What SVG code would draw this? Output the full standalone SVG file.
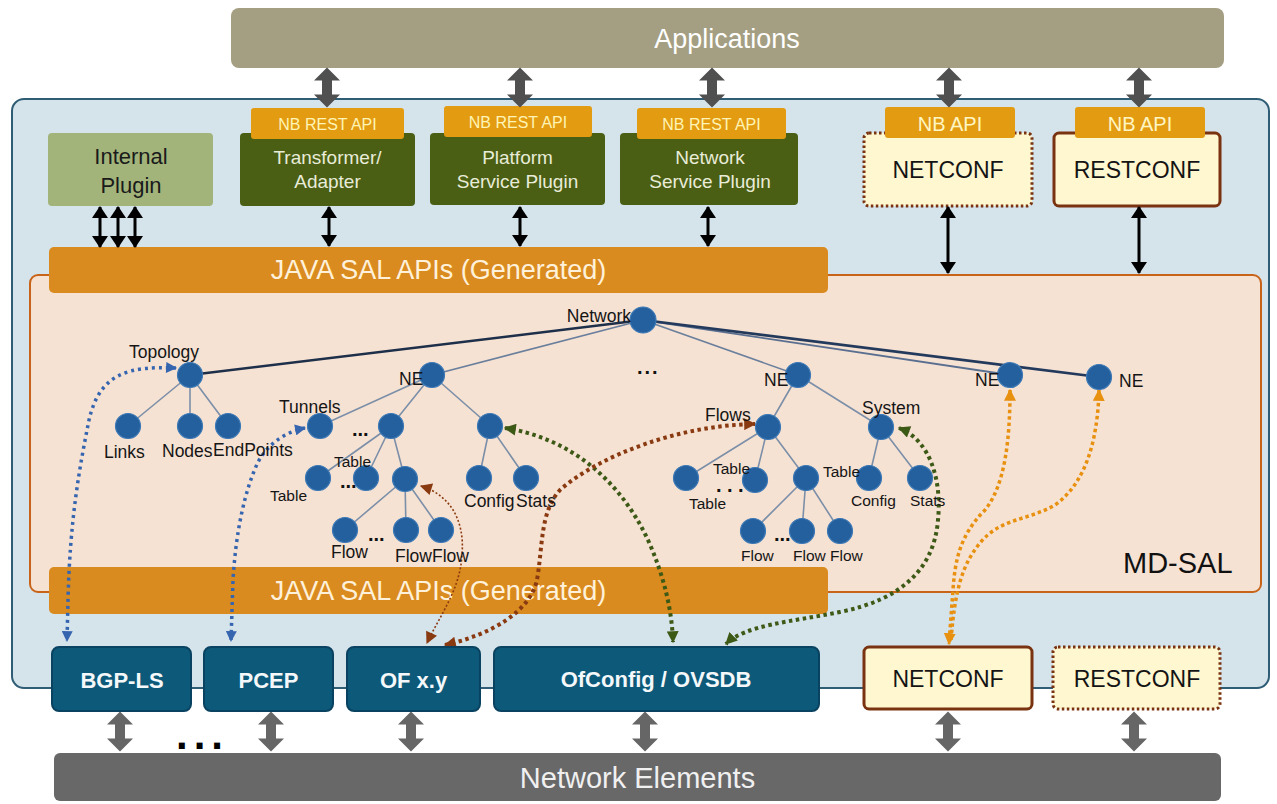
<svg xmlns="http://www.w3.org/2000/svg" xmlns:xlink="http://www.w3.org/1999/xlink" width="1277" height="804" viewBox="0 0 1277 804">
<style>
text{font-family:"Liberation Sans",Arial,sans-serif}
.lbl{font-size:17.5px;fill:#151515}
.lbs{font-size:15.5px;fill:#151515}
.dots{font-size:20px;font-weight:bold;fill:#111}
.tab{fill:#E39C12}
.tabt{font-size:16px;fill:#FFF4B5;text-anchor:middle}
.nbt{font-size:20px;fill:#FFF6C4;text-anchor:middle}
.green{fill:#4A5E14}
.greent{font-size:19px;fill:#E8ECD8;text-anchor:middle}
.java{fill:#DA8B1F}
.javat{font-size:27px;fill:#FFF1DA;text-anchor:middle}
.conf{fill:#FFF7D0;stroke:#7A3310;stroke-width:3}
.dotted{stroke-dasharray:2.5 2.5}
.conft{font-size:23px;fill:#141414;text-anchor:middle}
.teal{fill:#0C5979;stroke:#0A4361;stroke-width:2}
.tealt{font-size:22px;font-weight:bold;fill:#F4F8FA;text-anchor:middle}
.tree{stroke:#7C8FA8;stroke-width:1.6;fill:none}
.node{fill:#25609E;stroke:#3C79B6;stroke-width:1.2}
.blk{stroke:#000;stroke-width:3;marker-start:url(#mb);marker-end:url(#mb)}
.dash{fill:none}
</style>
<defs>
<path id="garrow" d="M0,0 L13,13 L5,13 L5,27 L13,27 L0,40 L-13,27 L-5,27 L-5,13 L-13,13 Z"/>
<marker id="mb" markerUnits="userSpaceOnUse" viewBox="0 0 12 16" markerWidth="12" markerHeight="16" refX="11" refY="8" orient="auto-start-reverse"><path d="M0,0 L12,8 L0,16 Z" fill="#000"/></marker>
<marker id="mBlue" markerUnits="userSpaceOnUse" viewBox="0 0 10 10" markerWidth="12" markerHeight="11" refX="9" refY="5" orient="auto-start-reverse"><path d="M0,0 L10,5 L0,10 Z" fill="#3665B0"/></marker>
<marker id="mGreen" markerUnits="userSpaceOnUse" viewBox="0 0 10 10" markerWidth="13" markerHeight="12" refX="9" refY="5" orient="auto-start-reverse"><path d="M0,0 L10,5 L0,10 Z" fill="#3D5916"/></marker>
<marker id="mBrown" markerUnits="userSpaceOnUse" viewBox="0 0 10 10" markerWidth="13" markerHeight="12" refX="9" refY="5" orient="auto-start-reverse"><path d="M0,0 L10,5 L0,10 Z" fill="#8A3A10"/></marker>
<marker id="mOrange" markerUnits="userSpaceOnUse" viewBox="0 0 10 10" markerWidth="12" markerHeight="12" refX="9" refY="5" orient="auto-start-reverse"><path d="M0,0 L10,5 L0,10 Z" fill="#E8900F"/></marker>
</defs>

<rect width="1277" height="804" fill="#FFFFFF"/>

<g id="applications">
<rect x="231" y="8" width="993" height="60" rx="8" fill="#A49E82"/>
<text x="727" y="48" font-size="27" fill="#FFFFFF" text-anchor="middle">Applications</text>
</g>

<g id="controller-panel">
<rect x="12" y="99" width="1257" height="589" rx="12" fill="#D5E3EB" stroke="#2F5D75" stroke-width="2"/>
</g>

<g id="md-sal">
<rect x="30" y="275" width="1231" height="317" rx="8" fill="#F6E2D3" stroke="#C8641A" stroke-width="2"/>
<text x="1123" y="573" font-size="29" fill="#111">MD-SAL</text>
</g>

<g id="internal-plugin">
<rect x="48" y="133" width="165" height="73" rx="4" fill="#A2B47A"/>
<text x="131" y="164" font-size="22" fill="#1A1A1A" text-anchor="middle">Internal</text>
<text x="131" y="193" font-size="22" fill="#1A1A1A" text-anchor="middle">Plugin</text>
</g>

<g id="transformer-adapter">
<rect class="green" x="240" y="133" width="175" height="73" rx="4"/>
<rect class="tab" x="251" y="108" width="153" height="31" rx="3"/>
<text class="tabt" x="327.5" y="130">NB REST API</text>
<text class="greent" x="327.5" y="164">Transformer/</text>
<text class="greent" x="327.5" y="188">Adapter</text>
</g>

<g id="platform-service-plugin">
<rect class="green" x="430" y="133" width="175" height="72" rx="4"/>
<rect class="tab" x="444" y="106" width="148" height="31" rx="3"/>
<text class="tabt" x="518" y="128">NB REST API</text>
<text class="greent" x="517.5" y="164">Platform</text>
<text class="greent" x="517.5" y="188">Service Plugin</text>
</g>

<g id="network-service-plugin">
<rect class="green" x="620" y="133" width="178" height="72" rx="4"/>
<rect class="tab" x="637" y="108" width="149" height="31" rx="3"/>
<text class="tabt" x="711.5" y="130">NB REST API</text>
<text class="greent" x="710" y="164">Network</text>
<text class="greent" x="710" y="188">Service Plugin</text>
</g>

<g id="netconf-nb">
<rect class="conf dotted" x="864" y="133" width="168" height="73" rx="5"/>
<rect class="tab" x="885" y="107" width="130" height="31" rx="3"/>
<text class="nbt" x="950" y="131">NB API</text>
<text class="conft" x="948" y="178">NETCONF</text>
</g>

<g id="restconf-nb">
<rect class="conf" x="1054" y="133" width="166" height="73" rx="5"/>
<rect class="tab" x="1075" y="107" width="130" height="31" rx="3"/>
<text class="nbt" x="1140" y="131">NB API</text>
<text class="conft" x="1137" y="178">RESTCONF</text>
</g>

<g id="java-sal-top">
<rect class="java" x="49" y="247" width="779" height="46" rx="5"/>
<text class="javat" x="438.5" y="279">JAVA SAL APIs (Generated)</text>
</g>

<g id="java-sal-bottom">
<rect class="java" x="49" y="567" width="779" height="47" rx="5"/>
<text class="javat" x="438.5" y="600">JAVA SAL APIs (Generated)</text>
</g>

<g id="network-elements">
<rect x="54" y="753" width="1167" height="48" rx="6" fill="#686868"/>
<text x="637.5" y="788" font-size="29" fill="#F0F0F0" text-anchor="middle">Network Elements</text>
<text x="176" y="749" font-size="42" font-weight="bold" letter-spacing="6" fill="#000">...</text>
</g>

<g id="connectors">
<g id="gray-arrows-top" fill="#505050">
<use xlink:href="#garrow" href="#garrow" x="327" y="67.5"/>
<use xlink:href="#garrow" href="#garrow" x="520" y="67.5"/>
<use xlink:href="#garrow" href="#garrow" x="712" y="67.5"/>
<use xlink:href="#garrow" href="#garrow" x="949" y="67.5"/>
<use xlink:href="#garrow" href="#garrow" x="1139" y="67.5"/>
</g>
<g id="gray-arrows-bottom" fill="#666666">
<use xlink:href="#garrow" href="#garrow" x="120" y="711.5"/>
<use xlink:href="#garrow" href="#garrow" x="271" y="711.5"/>
<use xlink:href="#garrow" href="#garrow" x="411" y="711.5"/>
<use xlink:href="#garrow" href="#garrow" x="645" y="711.5"/>
<use xlink:href="#garrow" href="#garrow" x="948" y="711.5"/>
<use xlink:href="#garrow" href="#garrow" x="1134" y="711.5"/>
</g>
<g id="black-arrows">
<line class="blk" x1="100" y1="207" x2="100" y2="247"/>
<line class="blk" x1="118" y1="207" x2="118" y2="247"/>
<line class="blk" x1="135" y1="207" x2="135" y2="247"/>
<line class="blk" x1="329" y1="207" x2="329" y2="246"/>
<line class="blk" x1="520" y1="207" x2="520" y2="246"/>
<line class="blk" x1="708" y1="207" x2="708" y2="246"/>
<line class="blk" x1="948" y1="207" x2="948" y2="273" stroke-width="4"/>
<line class="blk" x1="1139" y1="207" x2="1139" y2="273" stroke-width="4"/>
</g>
<g id="tree-lines">
<line x1="190" y1="375" x2="643" y2="320" stroke="#1E2F4A" stroke-width="2.5"/>
<line x1="432" y1="375" x2="643" y2="320" stroke="#6A7F9C" stroke-width="1.6"/>
<line x1="798" y1="375" x2="643" y2="320" stroke="#6A7F9C" stroke-width="1.6"/>
<line x1="1010" y1="375" x2="643" y2="320" stroke="#5A6F90" stroke-width="1.8"/>
<line x1="1099" y1="377" x2="643" y2="320" stroke="#243A5C" stroke-width="2.5"/>
<path class="tree" d="M190,375 L128,426 M190,375 L190,426 M190,375 L228,426"/>
<path class="tree" d="M432,375 L320,426 M432,375 L391,426 M432,375 L490,426"/>
<path class="tree" d="M391,426 L318,478 M391,426 L366,478 M391,426 L405,479"/>
<path class="tree" d="M405,479 L345,530 M405,479 L406,530 M405,479 L441,530"/>
<path class="tree" d="M490,426 L479,478 M490,426 L526,478"/>
<path class="tree" d="M798,375 L768,427 M798,375 L881,427"/>
<path class="tree" d="M768,427 L686,478 M768,427 L755,480 M768,427 L806,478"/>
<path class="tree" d="M806,478 L753,531 M806,478 L802,531 M806,478 L840,531"/>
<path class="tree" d="M881,427 L869,478 M881,427 L920,478"/>
</g>
<g id="dotted-arrows">
<path class="dash" d="M176,368 C130,366 100,372 89,420 C79,470 70,520 68,600 L67,641" stroke="#3665B0" stroke-width="3.5" stroke-dasharray="3 4" marker-start="url(#mBlue)" marker-end="url(#mBlue)"/>
<path class="dash" d="M305,428 C285,432 268,444 258,462 C245,490 236,530 233,580 L231,641" stroke="#3665B0" stroke-width="3.5" stroke-dasharray="3 4" marker-start="url(#mBlue)" marker-end="url(#mBlue)"/>
<path class="dash" d="M505,428 C570,438 620,480 648,540 C664,576 672,610 673,642" stroke="#3D5916" stroke-width="4" stroke-dasharray="3.5 3.5" marker-start="url(#mGreen)" marker-end="url(#mGreen)"/>
<path class="dash" d="M899,428 C930,440 942,480 938,520 C934,570 900,600 840,612 C790,622 745,625 726,644" stroke="#3D5916" stroke-width="4" stroke-dasharray="3.5 3.5" marker-start="url(#mGreen)" marker-end="url(#mGreen)"/>
<path class="dash" d="M445,645 C490,635 530,612 537,580 C543,545 540,512 560,490 C600,455 680,425 755,424" stroke="#8A3A10" stroke-width="4" stroke-dasharray="3.5 3.5" marker-start="url(#mBrown)" marker-end="url(#mBrown)"/>
<path class="dash" d="M421,486 C450,495 465,520 462,555 C460,590 440,615 427,643" stroke="#8A3A10" stroke-width="1.6" stroke-dasharray="2 2" marker-start="url(#mBrown)" marker-end="url(#mBrown)"/>
<path class="dash" d="M1010,390 C1010,440 1005,485 985,510 C960,535 955,560 953,590 L949,644" stroke="#E8900F" stroke-width="3.5" stroke-dasharray="3.5 3" marker-start="url(#mOrange)" marker-end="url(#mOrange)"/>
<path class="dash" d="M1099,390 C1098,430 1090,480 1055,505 C1030,520 1000,518 980,543 C962,565 955,590 951,640" stroke="#E8900F" stroke-width="3.5" stroke-dasharray="3.5 3" marker-start="url(#mOrange)"/>
</g>
</g>

<g id="tree-nodes">
<circle class="node" cx="643" cy="320" r="13"/>
<circle class="node" cx="190" cy="375" r="12.5"/>
<circle class="node" cx="128" cy="426" r="12.5"/>
<circle class="node" cx="190" cy="426" r="12.5"/>
<circle class="node" cx="228" cy="426" r="12.5"/>
<circle class="node" cx="432" cy="375" r="12.5"/>
<circle class="node" cx="320" cy="426" r="12.5"/>
<circle class="node" cx="391" cy="426" r="12.5"/>
<circle class="node" cx="490" cy="426" r="12.5"/>
<circle class="node" cx="318" cy="478" r="12.5"/>
<circle class="node" cx="366" cy="478" r="12.5"/>
<circle class="node" cx="405" cy="479" r="12.5"/>
<circle class="node" cx="479" cy="478" r="12.5"/>
<circle class="node" cx="526" cy="478" r="12.5"/>
<circle class="node" cx="345" cy="530" r="12.5"/>
<circle class="node" cx="406" cy="530" r="12.5"/>
<circle class="node" cx="441" cy="530" r="12.5"/>
<circle class="node" cx="798" cy="375" r="12.5"/>
<circle class="node" cx="1010" cy="375" r="12.5"/>
<circle class="node" cx="1099" cy="377" r="12.5"/>
<circle class="node" cx="768" cy="427" r="12.5"/>
<circle class="node" cx="881" cy="427" r="12.5"/>
<circle class="node" cx="686" cy="478" r="12.5"/>
<circle class="node" cx="755" cy="480" r="12.5"/>
<circle class="node" cx="806" cy="478" r="12.5"/>
<circle class="node" cx="869" cy="478" r="12.5"/>
<circle class="node" cx="920" cy="478" r="12.5"/>
<circle class="node" cx="753" cy="531" r="12.5"/>
<circle class="node" cx="802" cy="531" r="12.5"/>
<circle class="node" cx="840" cy="531" r="12.5"/>
</g>

<g id="tree-labels">
<text class="lbl" x="631" y="322" text-anchor="end">Network</text>
<text class="lbl" x="129" y="358">Topology</text>
<text class="lbl" x="104" y="458">Links</text>
<text class="lbl" x="162" y="457">Nodes</text>
<text class="lbl" x="213" y="456">EndPoints</text>
<text class="lbl" x="399" y="385">NE</text>
<text class="lbl" x="279" y="413">Tunnels</text>
<text class="lbs" x="334" y="467">Table</text>
<text class="lbs" x="270" y="501">Table</text>
<text class="lbl" x="464" y="507">Config</text>
<text class="lbl" x="516" y="507">Stats</text>
<text class="lbl" x="331" y="558">Flow</text>
<text class="lbl" x="395" y="562">FlowFlow</text>
<text class="lbl" x="764" y="386">NE</text>
<text class="lbl" x="975" y="386">NE</text>
<text class="lbl" x="1119" y="387">NE</text>
<text class="lbl" x="705" y="421">Flows</text>
<text class="lbl" x="862" y="414">System</text>
<text class="lbs" x="713" y="474">Table</text>
<text class="lbs" x="689" y="509">Table</text>
<text class="lbs" x="823" y="477">Table</text>
<text class="lbs" x="851" y="506">Config</text>
<text class="lbs" x="910" y="506">Stats</text>
<text class="lbs" x="741" y="561">Flow</text>
<text class="lbs" x="793" y="561">Flow Flow</text>
<text class="dots" x="352" y="436">...</text>
<text class="dots" x="340" y="488">...</text>
<text class="dots" x="368" y="541" font-size="18">...</text>
<text class="dots" x="637" y="374" font-size="24" letter-spacing="2">...</text>
<text class="dots" x="716" y="492" font-size="12" letter-spacing="5.5">...</text>
<text class="dots" x="774" y="541" font-size="18">...</text>
</g>

<g id="bgp-ls">
<rect class="teal" x="52" y="647" width="139" height="64" rx="7"/>
<text class="tealt" x="122" y="688">BGP-LS</text>
</g>
<g id="pcep">
<rect class="teal" x="204" y="647" width="129" height="64" rx="7"/>
<text class="tealt" x="268.5" y="688">PCEP</text>
</g>
<g id="of-xy">
<rect class="teal" x="347" y="647" width="133" height="64" rx="7"/>
<text class="tealt" x="413.5" y="688">OF x.y</text>
</g>
<g id="ofconfig-ovsdb">
<rect class="teal" x="494" y="647" width="325" height="64" rx="7"/>
<text class="tealt" x="656" y="687" font-size="21">OfConfig / OVSDB</text>
</g>
<g id="netconf-sb">
<rect class="conf" x="864" y="647" width="168" height="62" rx="5"/>
<text class="conft" x="948" y="687">NETCONF</text>
</g>
<g id="restconf-sb">
<rect class="conf dotted" x="1053" y="647" width="167" height="62" rx="5"/>
<text class="conft" x="1137" y="687">RESTCONF</text>
</g>
</svg>
